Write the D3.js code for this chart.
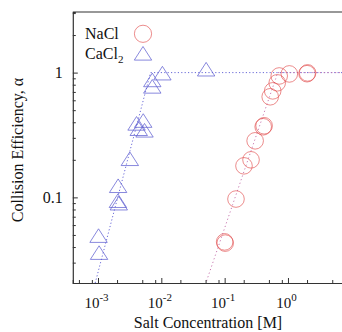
<!DOCTYPE html>
<html>
<head>
<meta charset="utf-8">
<script src="https://cdn.jsdelivr.net/npm/d3@7"></script>
<style>
  body { margin: 0; background: #fff; }
  svg { font-family: "Liberation Serif", "DejaVu Serif", serif; }
</style>
</head>
<body>
<div id="chart"></div>
<script>
// NaCl data (concentration in M, collision efficiency)
const naclConc  = [0.100, 0.102, 0.151, 0.202, 0.261, 0.303, 0.406, 0.420, 0.524, 0.574, 0.676, 0.727, 1.05, 2.00, 2.04];
const naclAlpha = [0.044, 0.043, 0.097, 0.179, 0.200, 0.284, 0.368, 0.375, 0.640, 0.714, 0.828, 0.940, 0.976, 0.98, 0.995];

// CaCl2 data
const cacl2Conc  = [0.00102, 0.00104, 0.00208, 0.00206, 0.00213, 0.00318, 0.00406, 0.00518, 0.00440, 0.00543, 0.0072, 0.0072, 0.0104, 0.051];
const cacl2Alpha = [0.0494, 0.0361, 0.124, 0.0941, 0.0899, 0.204, 0.392, 0.413, 0.355, 0.345, 0.874, 0.776, 0.99, 1.065];

// fitted curves (rise then plateau at 1)
const naclFitConc   = [0.0505, 0.69, 10];
const naclFitAlpha  = [0.0206, 1, 1];
const cacl2FitConc  = [0.000903, 0.00676, 10];
const cacl2FitAlpha = [0.0206, 1, 1];

// ticks
const xMajor = [1e-3, 1e-2, 1e-1, 1];
const xMajorExp = ['-3', '-2', '-1', '0'];
const xMinor = [5e-4, 8e-4, 2e-3, 5e-3, 8e-3, 2e-2, 5e-2, 8e-2, 0.2, 0.5, 0.8, 2, 5, 8];
const yMajor = [0.1, 1];
const yMajorLabels = ['0.1', '1'];
const yMinor = [0.03, 0.04, 0.05, 0.06, 0.07, 0.08, 0.09, 0.2, 0.3, 0.4, 0.5, 0.6, 0.7, 0.8, 0.9, 2, 3];

const legendNames = ['NaCl', 'CaCl'];

let margin = {top: 12, left: 72.8};
let width = 351.3 - margin.left;
let height = 283 - margin.top;

let svg = d3.select('#chart')
    .append('svg')
    .attr('width', 342)
    .attr('height', 332)
    .append('g')
    .attr('transform', 'translate(' + margin.left + ',' + margin.top + ')');

let x = d3.scaleLog().domain([4e-4, 10]).range([0, width]);
let y = d3.scaleLog().domain([0.0206, 3.06]).range([height, 0]);

svg.append('clipPath').attr('id', 'plotClip')
    .append('rect').attr('width', width).attr('height', height);

// fit lines
let line = d3.line()
    .x(d => x(d[0]))
    .y(d => y(d[1]));

let plot = svg.append('g').attr('clip-path', 'url(#plotClip)');

plot.append('path')
    .datum(cacl2FitConc.map((c, i) => [c, cacl2FitAlpha[i]]))
    .attr('fill', 'none')
    .attr('stroke', '#6a6ad8')
    .attr('stroke-width', 1)
    .attr('stroke-dasharray', '1.2,2.2')
    .attr('d', line);

plot.append('path')
    .datum(naclFitConc.map((c, i) => [c, naclFitAlpha[i]]))
    .attr('fill', 'none')
    .attr('stroke', '#c878b0')
    .attr('stroke-width', 1)
    .attr('stroke-dasharray', '1.2,2.6')
    .attr('stroke-dashoffset', 1.6)
    .attr('d', line);

// triangle marker centred on its bounding box
function triangle(cx, cy) {
  return 'M' + cx + ',' + (cy - 6.8) + 'L' + (cx + 8.7) + ',' + (cy + 6.8) + 'L' + (cx - 8.7) + ',' + (cy + 6.8) + 'Z';
}

plot.append('g')
    .selectAll('path')
    .data(cacl2Conc)
    .enter()
    .append('path')
    .attr('d', (d, i) => triangle(x(d), y(cacl2Alpha[i])))
    .attr('fill', 'none')
    .attr('stroke', '#5a5ad0')
    .attr('stroke-width', 0.9)
    .attr('stroke-opacity', 0.8);

plot.append('g')
    .selectAll('circle')
    .data(naclConc)
    .enter()
    .append('circle')
    .attr('cx', d => x(d))
    .attr('cy', (d, i) => y(naclAlpha[i]))
    .attr('r', 8.3)
    .attr('fill', 'none')
    .attr('stroke', '#e04a4a')
    .attr('stroke-width', 0.9)
    .attr('stroke-opacity', 0.7);

// axes
let axisColor = '#333';

let xAxisMajor = d3.axisBottom(x).tickValues(xMajor).tickSize(-5).tickFormat('');
let xAxisMinor = d3.axisBottom(x).tickValues(xMinor).tickSize(-3).tickFormat('');
let gx = svg.append('g').attr('transform', 'translate(0,' + height + ')');
gx.call(xAxisMinor);
gx.append('g').call(xAxisMajor).call(g => g.select('.domain').remove());

let yAxisMajor = d3.axisLeft(y).tickValues(yMajor).tickSize(-5).tickFormat('');
let yAxisMinor = d3.axisLeft(y).tickValues(yMinor).tickSize(-3).tickFormat('');
let gy = svg.append('g');
gy.call(yAxisMinor);
gy.append('g').call(yAxisMajor).call(g => g.select('.domain').remove());

svg.selectAll('.domain').attr('stroke', axisColor).attr('stroke-width', 1.2);
svg.selectAll('.tick line').attr('stroke', axisColor);

// top frame line
svg.append('line')
    .attr('x1', 0).attr('x2', width)
    .attr('y1', 0).attr('y2', 0)
    .attr('stroke', axisColor)
    .attr('stroke-width', 1.2);

// x tick labels 10^n
let xl = svg.append('g')
    .selectAll('text')
    .data(xMajor)
    .enter()
    .append('text')
    .attr('x', d => x(d) - 1.5)
    .attr('y', height + 24.5)
    .attr('text-anchor', 'middle')
    .attr('font-size', '15px')
    .attr('fill', '#111');
xl.append('tspan').text('10');
xl.append('tspan')
    .attr('dy', -6.5)
    .attr('font-size', '11px')
    .text((d, i) => xMajorExp[i]);

// y tick labels
svg.append('g')
    .selectAll('text')
    .data(yMajor)
    .enter()
    .append('text')
    .attr('x', -10)
    .attr('y', d => y(d))
    .attr('dy', '0.34em')
    .attr('text-anchor', 'end')
    .attr('font-size', '16px')
    .attr('fill', '#111')
    .text((d, i) => yMajorLabels[i]);

// axis titles
svg.append('text')
    .attr('x', 208 - margin.left)
    .attr('y', 328 - margin.top)
    .attr('text-anchor', 'middle')
    .attr('font-size', '16px')
    .attr('fill', '#111')
    .text('Salt Concentration [M]');

svg.append('text')
    .attr('transform', 'translate(' + (22.5 - margin.left) + ',' + (150 - margin.top) + ') rotate(-90)')
    .attr('text-anchor', 'middle')
    .attr('font-size', '16px')
    .attr('fill', '#111')
    .text('Collision Efficiency, \u03b1');

// legend
let legend = svg.append('g').attr('transform', 'translate(' + (-margin.left) + ',' + (-margin.top) + ')');
legend.append('text')
    .attr('x', 85).attr('y', 39)
    .attr('font-size', '16px')
    .attr('fill', '#111')
    .text(legendNames[0]);
let cl = legend.append('text')
    .attr('x', 85).attr('y', 58.5)
    .attr('font-size', '16px')
    .attr('fill', '#111');
cl.append('tspan').text(legendNames[1]);
cl.append('tspan').attr('dy', 4).attr('font-size', '11px').text('2');

legend.append('circle')
    .attr('cx', 143).attr('cy', 33.8).attr('r', 8.6)
    .attr('fill', 'none')
    .attr('stroke', '#e04a4a')
    .attr('stroke-width', 0.9)
    .attr('stroke-opacity', 0.7);
legend.append('path')
    .attr('d', triangle(143, 53.3))
    .attr('fill', 'none')
    .attr('stroke', '#5a5ad0')
    .attr('stroke-width', 0.9)
    .attr('stroke-opacity', 0.8);
</script>
</body>
</html>
